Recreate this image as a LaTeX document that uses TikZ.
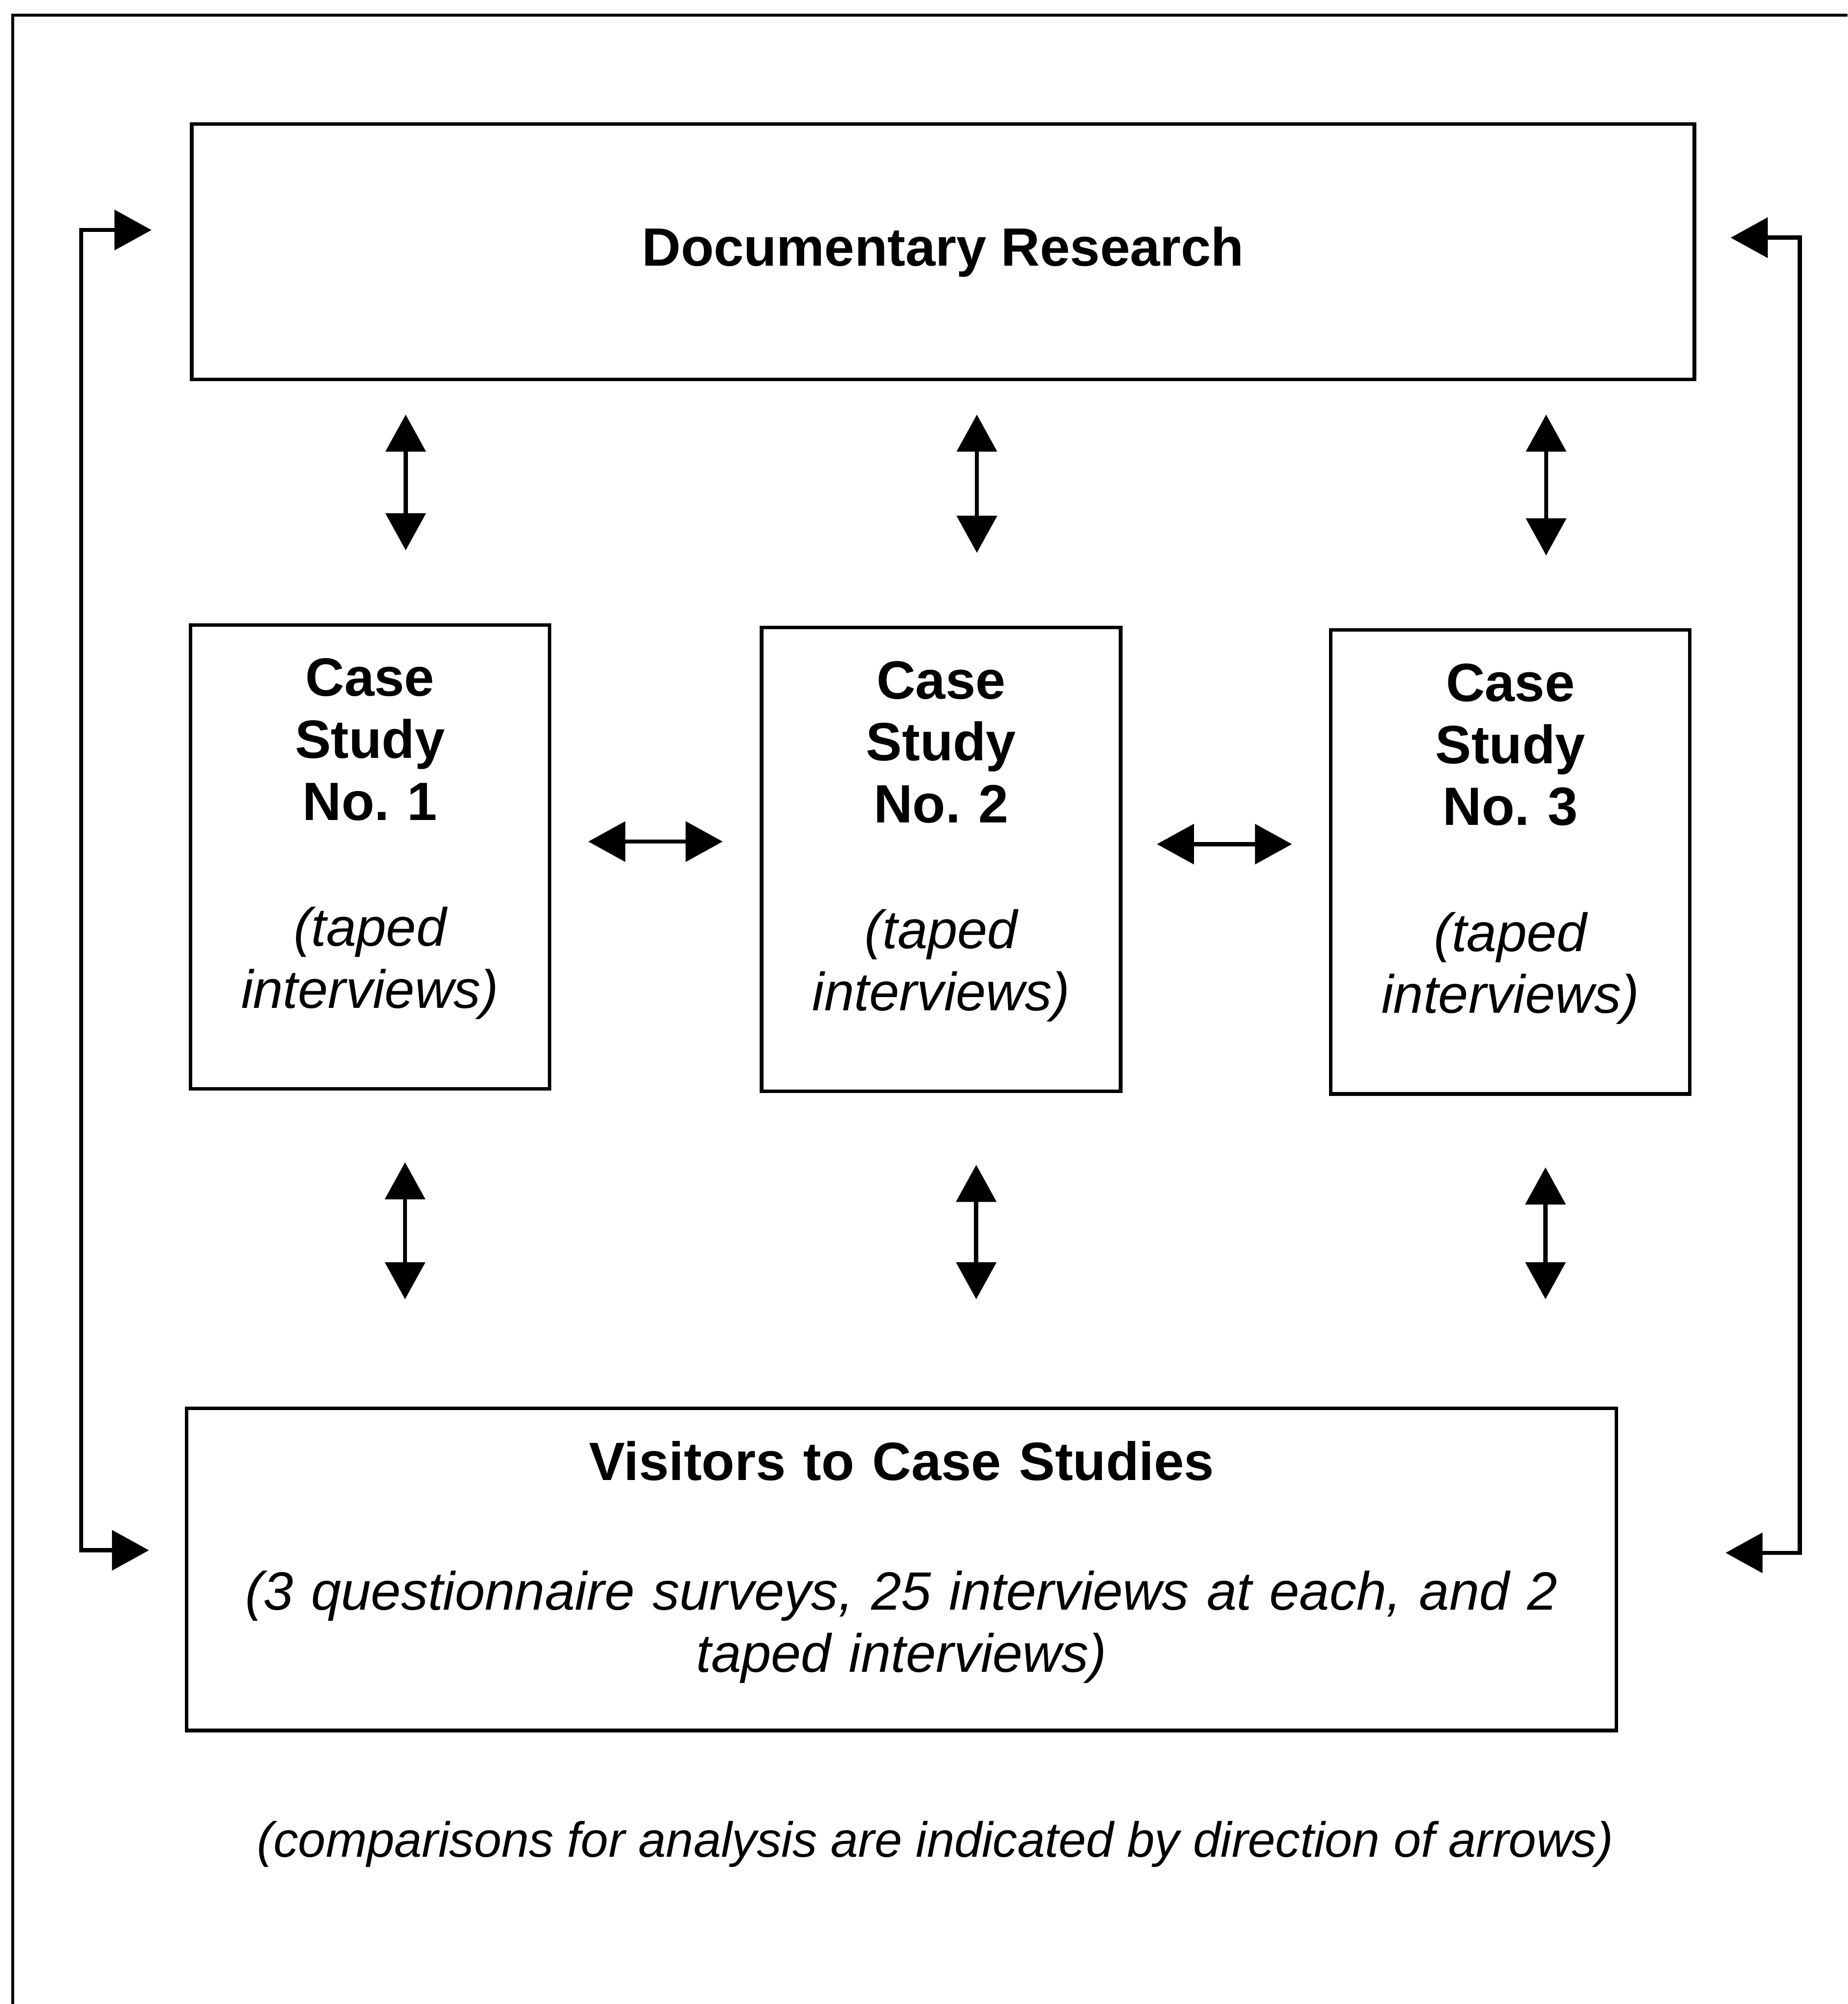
\documentclass[tikz,border=0pt]{standalone}
\usepackage{fontspec}
\setmainfont{Liberation Sans}
\usetikzlibrary{arrows.meta,positioning,calc}

\begin{document}
\begin{tikzpicture}[>={Triangle[length=2.9mm,width=3.1mm]},
  box/.style={draw,line width=0.8pt,inner sep=0pt,align=center,
    font=\fontsize{12}{13.8}\selectfont},
  casebox/.style={box,text width=2.81cm,minimum width=2.81cm,minimum height=3.63cm},
  twoway/.style={<->,line width=0.95pt}]
\useasboundingbox (0,0) rectangle (14.46,15.68);
% frame: only left and top edges
\draw[line width=0.7pt] (0.10,0) -- (0.10,15.56) -- (14.46,15.56);

\node[box,minimum width=11.76cm,minimum height=2.0cm] (doc) at (7.38,13.71)
  {\bfseries Documentary Research};
\foreach \i/\x/\y in {1/2.895/8.975,2/7.365/8.955,3/11.82/8.935}{
  \node[casebox] (cs\i) at (\x,\y)
    {{\bfseries Case\\Study\\No.\ \i}\\[0.50cm]{\itshape (taped\\interviews)}\rule[-0.37cm]{0pt}{0pt}};
}
\node[box,text width=11.19cm,minimum width=11.19cm,minimum height=2.52cm] (vis) at (7.055,3.40)
  {{\bfseries Visitors to Case Studies}\\[0.53cm]{\itshape (3 questionnaire surveys, 25 interviews at each, and 2\\taped interviews)}\rule[-0.20cm]{0pt}{0pt}};
\node[font=\fontsize{11}{13}\selectfont\itshape] (note) at (7.32,1.25)
  {(comparisons for analysis are indicated by direction of arrows)};

% up/down between rows
\foreach \i in {1,2,3}{
  \draw[twoway,shorten <=2.6mm,shorten >=5.7mm] ([xshift=2.8mm]cs\i.north |- doc.south) -- ([xshift=2.8mm]cs\i.north);
  \draw[twoway,shorten <=5.6mm,shorten >=8.4mm] ([xshift=2.75mm]cs\i.south) -- ([xshift=2.75mm]cs\i.south |- vis.north);
}
% across the case studies
\draw[twoway,shorten <=2.9mm,shorten >=2.9mm] ([yshift=1.2mm]cs1.east) -- ([yshift=1.2mm]cs1.east -| cs2.west);
\draw[twoway,shorten <=2.7mm,shorten >=2.9mm] ([yshift=1.2mm]cs2.east) -- ([yshift=1.2mm]cs2.east -| cs3.west);

% outer loops
\draw[twoway] ([xshift=-3mm,yshift=1.7mm]doc.west) -- ++(-0.55,0) |- ([xshift=-2.8mm,yshift=1.5mm]vis.west);
\draw[twoway] ([xshift=2.7mm,yshift=1.1mm]doc.east) -- ++(0.54,0) |- ([xshift=8.4mm,yshift=1.3mm]vis.east);
\end{tikzpicture}
\end{document}
